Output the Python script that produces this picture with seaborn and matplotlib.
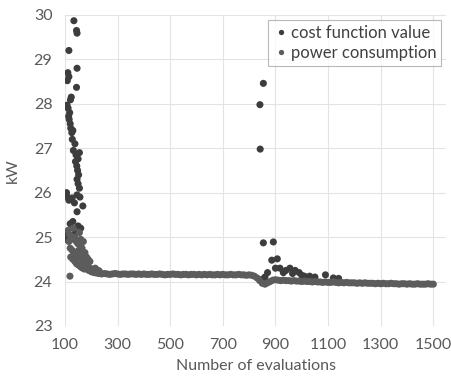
import numpy as np
import pandas as pd
import matplotlib.pyplot as plt
import seaborn as sns

# early part of the search, cost function value (evaluation, kW)
cost_eval = [134, 144, 146, 115, 146, 111, 115, 109, 144, 124, 121, 108, 112, 118, 114,
             116, 120, 122, 126, 130, 128, 138, 132, 142, 150, 155, 140, 145, 148, 152,
             146, 150, 155, 115, 127, 146, 136, 157, 146, 168, 120, 130, 150, 160, 140,
             106, 110, 108, 105,
             # second burst around 850-1100
             841, 842, 854, 854, 892, 886, 907, 917, 900, 930, 955, 975, 990, 1010,
             1050, 1090, 940, 870, 860, 850, 965, 1000, 1030, 1120, 1140]
cost_val = [29.87, 29.65, 29.59, 29.20, 28.80, 28.70, 28.61, 28.52, 28.37, 28.15, 28.09,
            27.97, 27.90, 27.80, 27.72, 27.65, 27.55, 27.45, 27.35, 27.40, 27.20, 27.10,
            26.95, 26.85, 26.76, 26.90, 26.70, 26.60, 26.50, 26.40, 26.30, 26.20, 26.10,
            25.83, 25.88, 25.95, 25.77, 25.90, 25.57, 25.70, 25.30, 25.35, 25.25, 25.20,
            25.10, 26.00, 25.90, 25.05, 24.95,
            27.98, 26.98, 28.46, 24.87, 24.89, 24.48, 24.51, 24.30, 24.30, 24.20, 24.30,
            24.25, 24.20, 24.12, 24.10, 24.15, 24.25, 24.20, 24.10, 24.05, 24.18, 24.14,
            24.12, 24.08, 24.07]

# power consumption, early points
power_early_eval = [112, 118, 125, 131, 137, 143, 149, 155, 160, 165, 120, 128, 134, 140,
                    146, 152, 158, 163, 168, 172, 176, 180, 185, 190, 195, 200, 205, 210,
                    122, 130, 138, 144, 150, 156, 162, 168, 174, 115, 119, 160, 170, 176,
                    182, 188, 195, 215, 222, 230]
power_early_val = [25.15, 25.05, 24.95, 25.20, 25.00, 24.90, 24.85, 25.10, 24.80, 24.75,
                   24.75, 24.70, 24.65, 24.60, 24.55, 24.70, 24.60, 24.50, 24.55, 24.45,
                   24.40, 24.35, 24.40, 24.32, 24.30, 24.28, 24.25, 24.23, 24.55, 24.50,
                   24.45, 24.40, 24.38, 24.35, 24.32, 24.30, 24.28, 24.90, 24.12, 24.95,
                   24.90, 24.65, 24.55, 24.50, 24.45, 24.30, 24.26, 24.24]

# power consumption plateau, every 10 evaluations from 180 to 1500
plateau_eval = list(range(180, 1501, 10))
plateau_val = [24.30, 24.25, 24.22, 24.20, 24.19,
               24.18, 24.17, 24.18, 24.17, 24.16, 24.17, 24.18, 24.17, 24.16, 24.17,
               24.17, 24.16, 24.17, 24.17, 24.16, 24.17, 24.16, 24.17, 24.16, 24.16,
               24.17, 24.16, 24.16, 24.17, 24.16, 24.15, 24.16, 24.16, 24.17, 24.16,
               24.16, 24.15, 24.16, 24.16, 24.15, 24.16, 24.16, 24.15, 24.16, 24.15,
               24.16, 24.15, 24.16, 24.15, 24.15, 24.16, 24.15, 24.16, 24.15, 24.15,
               24.16, 24.15, 24.15, 24.16, 24.15, 24.15, 24.14, 24.15, 24.14, 24.12,
               24.08, 24.02, 23.96, 23.94, 23.97, 24.00,
               24.03, 24.04, 24.03, 24.02, 24.03, 24.02, 24.02, 24.01, 24.02, 24.01,
               24.01, 24.00, 24.01, 24.00, 24.00, 23.99, 24.00, 23.99, 23.99, 23.98,
               23.99, 23.98, 23.98, 23.99, 23.98, 23.97, 23.98, 23.97, 23.98, 23.97,
               23.97, 23.97, 23.96, 23.97, 23.96, 23.97, 23.96, 23.96, 23.96, 23.95,
               23.96, 23.95, 23.96, 23.95, 23.95, 23.96, 23.95, 23.95, 23.94, 23.95,
               23.95, 23.94, 23.95, 23.94, 23.94, 23.95, 23.94, 23.94, 23.94, 23.95,
               23.94, 23.94]

x_ticks = [100, 300, 500, 700, 900, 1100, 1300, 1500]
y_ticks = [23, 24, 25, 26, 27, 28, 29, 30]

cost = pd.DataFrame({"evals": cost_eval, "kW": cost_val, "series": "cost function value"})
power = pd.DataFrame({"evals": power_early_eval + plateau_eval,
                      "kW": power_early_val + plateau_val,
                      "series": "power consumption"})
df = pd.concat([cost, power], ignore_index=True)

sns.set_style("whitegrid")
plt.rcParams["font.family"] = ["Lato", "DejaVu Sans"]

fig = plt.figure(figsize=(4.51, 3.83), dpi=100)
ax = fig.add_axes([0.144, 0.149, 0.846, 0.812])

sns.scatterplot(data=df, x="evals", y="kW", hue="series",
                palette={"cost function value": "#3d3d3d", "power consumption": "#5c5c5c"},
                s=26, linewidth=0, ax=ax)

ax.set_xlim(100, 1550)
ax.set_ylim(23, 30)
ax.set_xticks(x_ticks)
ax.set_yticks(y_ticks)
ax.grid(True, color="#e3e3e3", linewidth=0.8)
for s in ax.spines.values():
    s.set_visible(False)
ax.tick_params(colors="#595959", labelsize=11.5, length=0, pad=9)
ax.set_xlabel("Number of evaluations", color="#595959", fontsize=11.5, labelpad=5)
ax.set_ylabel("kW", color="#595959", fontsize=11.5, labelpad=10)

leg = ax.legend(loc="upper right", frameon=True, fancybox=False, fontsize=12,
                handletextpad=0.1, handlelength=1.0, borderpad=0.3, labelspacing=0.25,
                borderaxespad=0.3, markerscale=0.75)
leg.get_frame().set_edgecolor("#a6a6a6")
leg.get_frame().set_linewidth(0.8)
for t in leg.get_texts():
    t.set_color("#404040")

fig.savefig("out.png", dpi=100)
